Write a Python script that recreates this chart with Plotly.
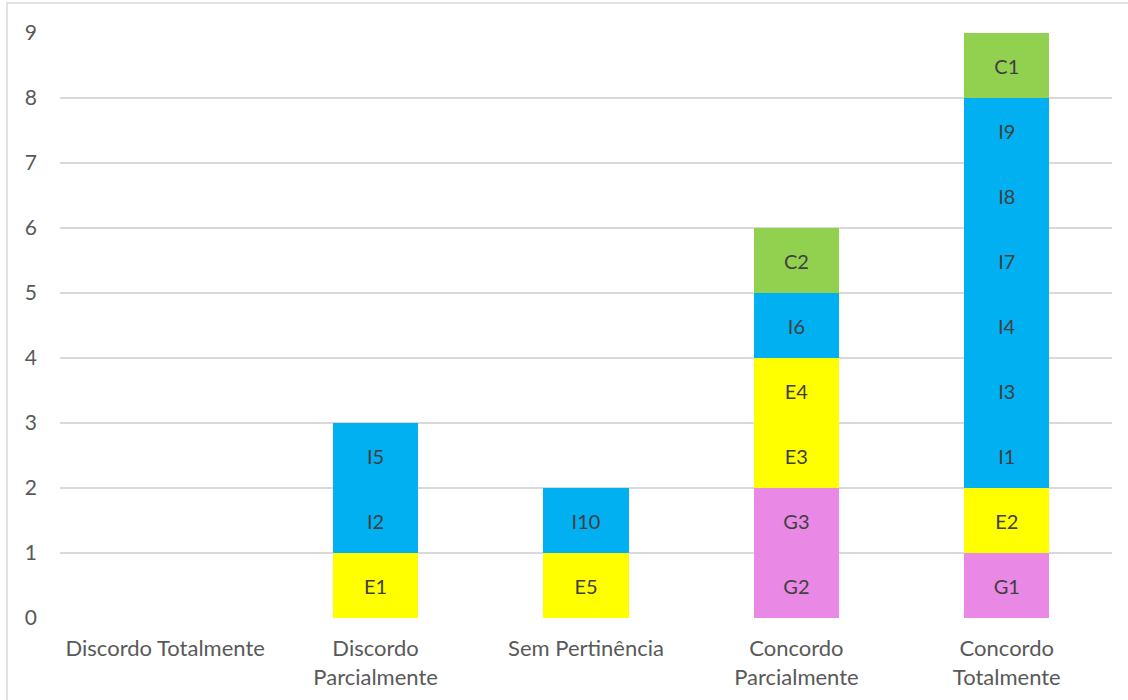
import plotly.graph_objects as go

# Response categories (x axis)
categories = [
    "Discordo Totalmente",
    "Discordo Parcialmente",
    "Sem Pertinência",
    "Concordo Parcialmente",
    "Concordo Totalmente",
]
tick_text = [
    "Discordo Totalmente",
    "Discordo<br>Parcialmente",
    "Sem Pertinência",
    "Concordo<br>Parcialmente",
    "Concordo<br>Totalmente",
]

# Items answered in each category, grouped by family (stacked bottom to top: G, E, I, C)
items_G = {"Concordo Parcialmente": ["G2", "G3"], "Concordo Totalmente": ["G1"]}
items_E = {
    "Discordo Parcialmente": ["E1"],
    "Sem Pertinência": ["E5"],
    "Concordo Parcialmente": ["E3", "E4"],
    "Concordo Totalmente": ["E2"],
}
items_I = {
    "Discordo Parcialmente": ["I2", "I5"],
    "Sem Pertinência": ["I10"],
    "Concordo Parcialmente": ["I6"],
    "Concordo Totalmente": ["I1", "I3", "I4", "I7", "I8", "I9"],
}
items_C = {"Concordo Parcialmente": ["C2"], "Concordo Totalmente": ["C1"]}

group_colors = {"G": "#EA88E6", "E": "#FFFF00", "I": "#00B0F0", "C": "#92D050"}
groups = [("G", items_G), ("E", items_E), ("I", items_I), ("C", items_C)]

FONT = "Lato, Open Sans, sans-serif"

fig = go.Figure()
# zero-height base so every category keeps its slot on the axis
fig.add_trace(go.Bar(x=categories, y=[0] * len(categories),
                     marker=dict(color="rgba(0,0,0,0)"),
                     hoverinfo="skip", showlegend=False))

for key, mapping in groups:
    depth = max((len(v) for v in mapping.values()), default=0)
    for level in range(depth):
        xs, ys, txt = [], [], []
        for cat in categories:
            lst = mapping.get(cat, [])
            if level < len(lst):
                xs.append(cat)
                ys.append(1)
                txt.append(lst[level])
        fig.add_trace(go.Bar(
            x=xs, y=ys, text=txt,
            marker=dict(color=group_colors[key], line=dict(width=0)),
            textposition="inside", insidetextanchor="middle",
            textangle=0, constraintext="none",
            textfont=dict(family=FONT, size=20, color="#404040"),
            hoverinfo="x+text", showlegend=False,
        ))

W, H = 1128, 700
ml, mr, mt, mb = 60, 16, 33, 82
pw, ph = W - ml - mr, H - mt - mb


def px_x(p):
    return (p - ml) / pw


def px_y(p):
    return (H - mb - p) / ph


fig.update_layout(
    width=W, height=H,
    margin=dict(l=ml, r=mr, t=mt, b=mb),
    barmode="stack", bargap=0.595,
    plot_bgcolor="white", paper_bgcolor="white",
    font=dict(family=FONT, color="#595959", size=22),
    xaxis=dict(
        categoryorder="array", categoryarray=categories,
        range=[-0.5, len(categories) - 0.5],
        tickmode="array", tickvals=categories, ticktext=tick_text,
        showgrid=False, showline=False, ticks="", ticklabelstandoff=15,
        automargin=False,
        tickfont=dict(family=FONT, size=22, color="#595959"),
    ),
    yaxis=dict(
        range=[0, 9], dtick=1, showgrid=True, gridcolor="#D9D9D9", gridwidth=1.5,
        zeroline=False, showline=False, ticks="", ticklabelstandoff=22,
        automargin=False,
        tickfont=dict(family=FONT, size=21, color="#595959"),
    ),
    shapes=[dict(
        type="rect", xref="paper", yref="paper",
        x0=px_x(7), x1=px_x(1140), y0=px_y(710), y1=px_y(3),
        line=dict(color="#D9D9D9", width=1.5), fillcolor="rgba(0,0,0,0)", layer="below",
    )],
)

fig.write_html("out.html")
